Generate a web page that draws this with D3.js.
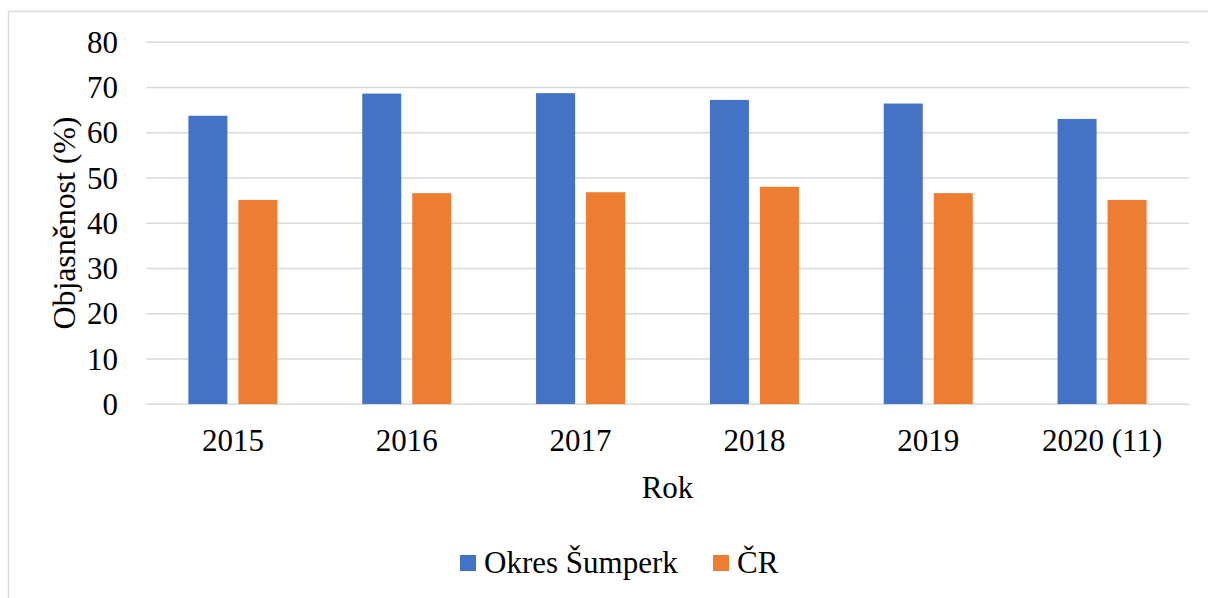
<!DOCTYPE html>
<html>
<head>
<meta charset="utf-8">
<script src="https://cdn.jsdelivr.net/npm/d3@7"></script>
<style>
  html, body { margin: 0; padding: 0; background: #fff; }
  svg { display: block; }
</style>
</head>
<body>
<svg id="chart"></svg>
<script>
// data
const years = ['2015', '2016', '2017', '2018', '2019', '2020 (11)'];
const seriesNames = ['Okres Šumperk', 'ČR'];
const sumperk = [63.7, 68.6, 68.7, 67.2, 66.4, 63.0];
const cr = [45.1, 46.6, 46.8, 48.0, 46.6, 45.1];
const yTicks = [0, 10, 20, 30, 40, 50, 60, 70, 80];

const colors = ['#4472c4', '#ed7d31'];
const width = 1208;
const height = 598;
const font = '"Liberation Serif", "Times New Roman", serif';
const fontSize = 31;

const margin = { top: 42, right: 19, bottom: 194, left: 146 };
const plotW = width - margin.left - margin.right;
const plotH = height - margin.top - margin.bottom;

const svg = d3.select('#chart')
  .attr('width', width)
  .attr('height', height);

// chart area border
svg.append('rect')
  .attr('x', 8.5)
  .attr('y', 11.5)
  .attr('width', width)
  .attr('height', height)
  .attr('fill', '#fff')
  .attr('stroke', '#d9d9d9')
  .attr('stroke-width', 1.5);

const g = svg.append('g')
  .attr('transform', `translate(${margin.left},${margin.top})`);

const x0 = d3.scaleBand().domain(years).range([0, plotW]).padding(0);
const x1 = d3.scaleBand().domain(seriesNames).range([0, x0.bandwidth()])
  .paddingInner(0.22).paddingOuter(0.848);
const y = d3.scaleLinear().domain([0, 80]).range([plotH, 0]);

// gridlines
g.selectAll('line.grid')
  .data(yTicks)
  .enter()
  .append('line')
  .attr('class', 'grid')
  .attr('x1', 0)
  .attr('x2', plotW)
  .attr('y1', d => y(d) + 0.3)
  .attr('y2', d => y(d) + 0.3)
  .attr('stroke', '#d9d9d9')
  .attr('stroke-width', 1.5);

// y tick labels
g.selectAll('text.ytick')
  .data(yTicks)
  .enter()
  .append('text')
  .attr('class', 'ytick')
  .attr('x', -28)
  .attr('y', d => y(d))
  .attr('dy', '0.35em')
  .attr('text-anchor', 'end')
  .attr('font-family', font)
  .attr('font-size', fontSize)
  .attr('fill', '#000')
  .text(d => d);

// bars
const rows = years.map((yr, i) => ({ year: yr, values: [sumperk[i], cr[i]] }));

const groups = g.selectAll('g.year')
  .data(rows)
  .enter()
  .append('g')
  .attr('class', 'year')
  .attr('transform', d => `translate(${x0(d.year)},0)`);

groups.selectAll('rect')
  .data(d => d.values.map((v, k) => ({ name: seriesNames[k], value: v, k })))
  .enter()
  .append('rect')
  .attr('x', d => x1(d.name))
  .attr('y', d => y(d.value))
  .attr('width', x1.bandwidth())
  .attr('height', d => y(0) - y(d.value))
  .attr('fill', d => colors[d.k]);

// x tick labels
g.selectAll('text.xtick')
  .data(years)
  .enter()
  .append('text')
  .attr('class', 'xtick')
  .attr('x', d => x0(d) + x0.bandwidth() / 2)
  .attr('y', plotH + 47)
  .attr('text-anchor', 'middle')
  .attr('font-family', font)
  .attr('font-size', fontSize)
  .attr('fill', '#000')
  .text(d => d);

// axis titles
svg.append('text')
  .attr('x', margin.left + plotW / 2)
  .attr('y', 498)
  .attr('text-anchor', 'middle')
  .attr('font-family', font)
  .attr('font-size', fontSize)
  .attr('fill', '#000')
  .text('Rok');

svg.append('text')
  .attr('transform', `translate(75,${margin.top + plotH / 2}) rotate(-90)`)
  .attr('text-anchor', 'middle')
  .attr('font-family', font)
  .attr('font-size', 32)
  .attr('textLength', 213)
  .attr('fill', '#000')
  .text('Objasněnost (%)');

// legend
const legendItems = [
  { name: seriesNames[0], color: colors[0], x: 460 },
  { name: seriesNames[1], color: colors[1], x: 713 }
];
const legend = svg.append('g').attr('id', 'legend');
legendItems.forEach(item => {
  legend.append('rect')
    .attr('x', item.x)
    .attr('y', 555)
    .attr('width', 16)
    .attr('height', 16)
    .attr('fill', item.color);
  legend.append('text')
    .attr('x', item.x + 24)
    .attr('y', 573)
    .attr('font-family', font)
    .attr('font-size', fontSize)
    .attr('fill', '#000')
    .text(item.name);
});
</script>
</body>
</html>
